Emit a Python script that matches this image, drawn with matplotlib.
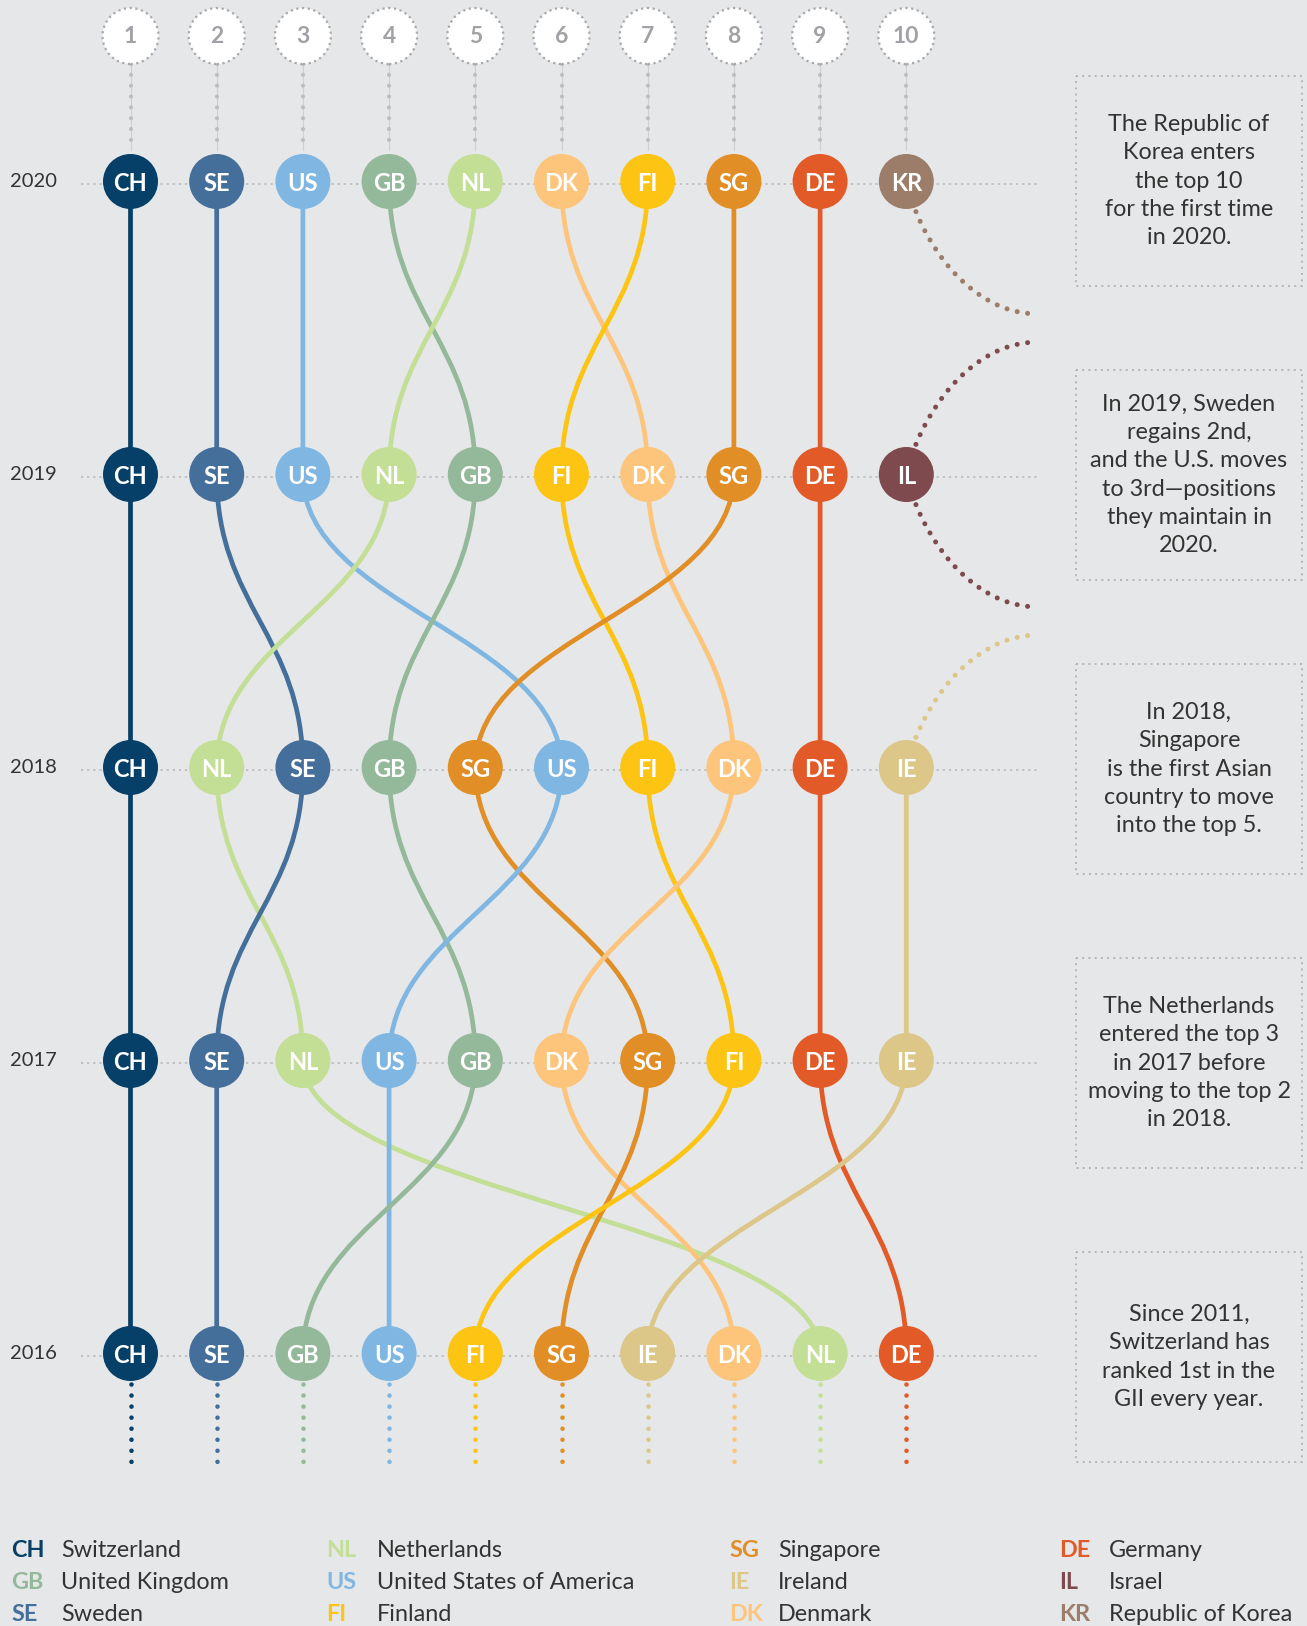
import matplotlib
matplotlib.use('Agg')
import matplotlib.pyplot as plt
import matplotlib.transforms as mtransforms
from matplotlib.path import Path
from matplotlib.patches import PathPatch, Rectangle

plt.rcParams['font.family'] = ['Lato', 'DejaVu Sans']

# --- data -------------------------------------------------------------
years = [2020, 2019, 2018, 2017, 2016]
rank_2020 = ['CH', 'SE', 'US', 'GB', 'NL', 'DK', 'FI', 'SG', 'DE', 'KR']
rank_2019 = ['CH', 'SE', 'US', 'NL', 'GB', 'FI', 'DK', 'SG', 'DE', 'IL']
rank_2018 = ['CH', 'NL', 'SE', 'GB', 'SG', 'US', 'FI', 'DK', 'DE', 'IE']
rank_2017 = ['CH', 'SE', 'NL', 'US', 'GB', 'DK', 'SG', 'FI', 'DE', 'IE']
rank_2016 = ['CH', 'SE', 'GB', 'US', 'FI', 'SG', 'IE', 'DK', 'NL', 'DE']
rankings = [rank_2020, rank_2019, rank_2018, rank_2017, rank_2016]

legend_codes = [['CH', 'GB', 'SE'], ['NL', 'US', 'FI'],
                ['SG', 'IE', 'DK'], ['DE', 'IL', 'KR']]
legend_names = [['Switzerland', 'United Kingdom', 'Sweden'],
                ['Netherlands', 'United States of America', 'Finland'],
                ['Singapore', 'Ireland', 'Denmark'],
                ['Germany', 'Israel', 'Republic of Korea']]

notes = [
    'The Republic of\nKorea enters\nthe top 10\nfor the first time\nin 2020.',
    'In 2019, Sweden\nregains 2nd,\nand the U.S. moves\nto 3rd\u2014positions\nthey maintain in\n2020.',
    'In 2018,\nSingapore\nis the first Asian\ncountry to move\ninto the top 5.',
    'The Netherlands\nentered the top 3\nin 2017 before\nmoving to the top 2\nin 2018.',
    'Since 2011,\nSwitzerland has\nranked 1st in the\nGII every year.',
]

# --- style ------------------------------------------------------------
colors = {
    'CH': '#063f68', 'SE': '#456f9b', 'US': '#80b7e2', 'GB': '#94b99a',
    'NL': '#c3de95', 'DK': '#fdc57b', 'FI': '#fdc414', 'SG': '#e08e25',
    'DE': '#e15a28', 'KR': '#9b7d6a', 'IL': '#7e4a4e', 'IE': '#dcc688',
}
bg = '#e6e7e8'
text_c = '#333333'

W, H = 1307, 1626
col0, col_step = 130.5, 86.2       # pixel x of rank 1, spacing
row0, row_step = 181.5, 293.0      # pixel y of first year, spacing

fig = plt.figure(figsize=(W / 100, H / 100), dpi=100, facecolor=bg)
ax = fig.add_axes([0, 0, 1, 1])
ax.set_facecolor(bg)
ax.set_xlim(1 - col0 / col_step, 1 + (W - col0) / col_step)
ax.set_ylim(years[0] - (H - row0) / row_step, years[0] + row0 / row_step)
ax.axis('off')

# pixel coordinate helpers (layout only)
px = mtransforms.Affine2D().scale(1 / W, -1 / H).translate(0, 1) + fig.transFigure


def xd(p):
    return 1 + (p - col0) / col_step


def yd(p):
    return years[0] - (p - row0) / row_step


line_start, line_end = xd(81), xd(1038)
node_s = (55 * 0.72) ** 2
lw = 3.4
k = 0.45
CURVE = [Path.MOVETO, Path.CURVE4, Path.CURVE4, Path.CURVE4]


def dot_style(size, gap):
    return dict(lw=size, linestyle=(0, (0.01, gap / 1.389 / size)))


def dots(x, y, color, size=3.4, gap=11, z=1):
    ax.plot(x, y, color=color, dash_capstyle='round', zorder=z, **dot_style(size, gap))


# year rows: labels + thin dotted guides
for y in years:
    ax.text(xd(10), y, str(y), ha='left', va='center', fontsize=14.5, color=text_c)
    ax.plot([line_start, line_end], [y - 0.01, y - 0.01], color='#b5b7ba', lw=1.1,
            linestyle=(0, (1.5, 2.5)), zorder=0)

# rank header circles with dotted connectors to first row
ranks = range(1, 11)
for r in ranks:
    ax.plot([r, r], [yd(64), yd(150)], color='#cfd0d2', lw=0.8, zorder=0)
    dots([r, r], [yd(64), yd(150)], '#bcbec0', size=3.0, gap=10.8, z=1)
ax.scatter(list(ranks), [yd(36)] * 10, s=(56 * 0.72) ** 2, facecolor='white',
           edgecolor='#a7a9ac', linewidths=1.6, linestyles=(0, (1, 1.6)), zorder=3)
for r in ranks:
    ax.text(r, yd(36), str(r), ha='center', va='center', fontsize=16.5,
            fontweight='bold', color='#a0a2a5', zorder=4)

# connections between consecutive years
for i in range(len(years) - 1):
    upper, lower = rankings[i], rankings[i + 1]
    y0, y1 = years[i], years[i + 1]
    for code in upper:
        if code not in lower:
            continue
        r0, r1 = upper.index(code) + 1, lower.index(code) + 1
        path = Path([(r0, y0), (r0, y0 - k), (r1, y1 + k), (r1, y1)], CURVE)
        ax.add_patch(PathPatch(path, fill=False, edgecolor=colors[code], lw=lw,
                               capstyle='round', zorder=2))

# countries entering / leaving the top 10: dotted arcs to the right
for i, ranking in enumerate(rankings):
    y = years[i]
    for r, code in enumerate(ranking, start=1):
        ends = []
        if i > 0 and code not in rankings[i - 1]:
            ends.append(y + 0.5 - 0.048)
        if i < len(years) - 1 and code not in rankings[i + 1]:
            ends.append(y - 0.5 + 0.048)
        for ye in ends:
            xe = line_end
            path = Path([(r, y), (r + 0.106 * (xe - r), y + 0.456 * (ye - y)),
                         (r + 0.485 * (xe - r), ye), (xe, ye)], CURVE)
            ax.add_patch(PathPatch(path, fill=False, edgecolor=colors[code],
                                   capstyle='round', zorder=1, **dot_style(3.6, 10.5)))

# history stubs below the last year
for r, code in enumerate(rankings[-1], start=1):
    dots([r, r], [years[-1] - 30 / row_step, years[-1] - 119 / row_step],
         colors[code], size=3.3, gap=11, z=1)

# nodes
for i, ranking in enumerate(rankings):
    xs = list(range(1, len(ranking) + 1))
    ax.scatter(xs, [years[i]] * len(xs), s=node_s, c=[colors[c] for c in ranking],
               linewidths=0, zorder=3)
    for x, code in zip(xs, ranking):
        ax.text(x, years[i], code, ha='center', va='center_baseline', fontsize=17,
                fontweight='bold', color='white', zorder=4)

# annotation boxes
for j, note in enumerate(notes):
    top = 76 + j * 294
    ax.add_patch(Rectangle((1076, top), 226, 210, transform=px, fill=False,
                           edgecolor='#b3b5b8', lw=1.4, linestyle=(0, (1, 2.2))))
    ax.text(1189, top + 105, note, transform=px, ha='center', va='center',
            fontsize=16.8, color=text_c, linespacing=1.42)

# legend
code_x = [11, 326, 729, 1059]
name_x = [61, 377, 778, 1109]
row_y = [1557, 1589, 1621]
for c in range(4):
    for r in range(3):
        code = legend_codes[c][r]
        ax.text(code_x[c], row_y[r], code, transform=px, ha='left', va='baseline',
                fontsize=16.8, fontweight='bold', color=colors[code])
        ax.text(name_x[c], row_y[r], legend_names[c][r], transform=px, ha='left',
                va='baseline', fontsize=16.8, color=text_c)

fig.savefig('out.png', dpi=100, facecolor=bg)
